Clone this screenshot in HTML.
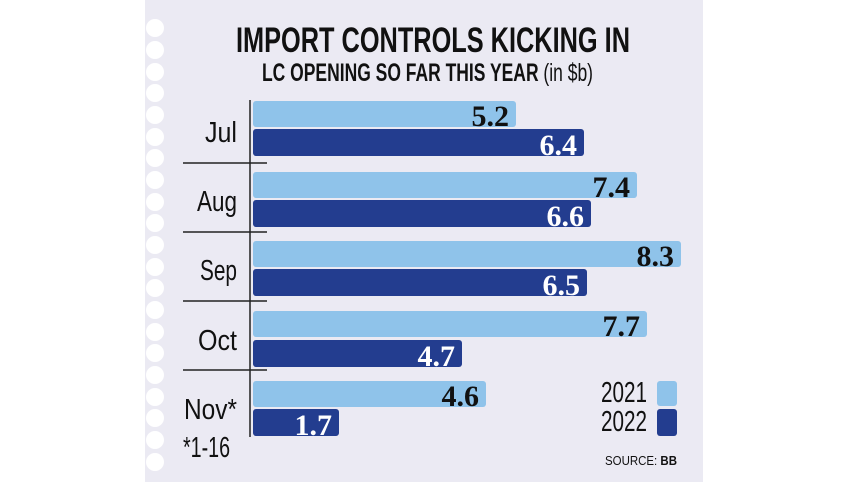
<!DOCTYPE html>
<html><head><style>
html,body{margin:0;padding:0;background:#fff;}
svg{display:block;}
text{font-family:"Liberation Sans",sans-serif;}
g.v text{font-family:"Liberation Serif",serif;font-weight:bold;font-size:30px;}
g.m text, text.m{font-size:29px;fill:#111;}
</style></head><body>
<svg width="857" height="482" viewBox="0 0 857 482">
<rect x="141" y="0" width="562" height="482" fill="#ebeaf3"/>
<g fill="#fff">
<rect x="141" y="0" width="4" height="482"/>
<circle cx="155" cy="28" r="9"/><circle cx="155" cy="50" r="9"/><circle cx="155" cy="72" r="9"/>
<circle cx="155" cy="93" r="9"/><circle cx="155" cy="115" r="9"/><circle cx="155" cy="137" r="9"/>
<circle cx="155" cy="158" r="9"/><circle cx="155" cy="180" r="9"/><circle cx="155" cy="202" r="9"/>
<circle cx="155" cy="223" r="9"/><circle cx="155" cy="245" r="9"/><circle cx="155" cy="267" r="9"/>
<circle cx="155" cy="288" r="9"/><circle cx="155" cy="310" r="9"/><circle cx="155" cy="332" r="9"/>
<circle cx="155" cy="353" r="9"/><circle cx="155" cy="375" r="9"/><circle cx="155" cy="397" r="9"/>
<circle cx="155" cy="418" r="9"/><circle cx="155" cy="440" r="9"/><circle cx="155" cy="462" r="9"/>
</g>
<text x="236" y="52" font-size="35" font-weight="bold" textLength="394" lengthAdjust="spacingAndGlyphs" fill="#111">IMPORT CONTROLS KICKING IN</text>
<text x="262" y="81" font-size="25" textLength="331" lengthAdjust="spacingAndGlyphs" fill="#111"><tspan font-weight="bold">LC OPENING SO FAR THIS YEAR </tspan>(in $b)</text>
<line x1="250" y1="100" x2="250" y2="437" stroke="#222" stroke-width="1.5"/>
<g stroke="#222" stroke-width="1.5">
<line x1="183" y1="163" x2="267" y2="163"/><line x1="183" y1="232" x2="267" y2="232"/>
<line x1="183" y1="301" x2="267" y2="301"/><line x1="183" y1="370" x2="267" y2="370"/>
</g>
<g fill="#8fc3ea">
<rect x="253" y="101" width="263" height="26" rx="3"/>
<rect x="253" y="172" width="384" height="26" rx="3"/>
<rect x="253" y="241" width="428" height="26" rx="3"/>
<rect x="253" y="311" width="394" height="26" rx="3"/>
<rect x="253" y="381" width="233" height="26" rx="3"/>
<rect x="657" y="381" width="20" height="25" rx="3"/>
</g>
<g fill="#233d8f">
<rect x="253" y="129" width="331" height="27" rx="3"/>
<rect x="253" y="200" width="338" height="27" rx="3"/>
<rect x="253" y="269" width="334" height="27" rx="3"/>
<rect x="253" y="340" width="209" height="27" rx="3"/>
<rect x="253" y="409" width="86" height="27" rx="3"/>
<rect x="657" y="409" width="20" height="27" rx="3"/>
</g>
<g class="v" text-anchor="end">
<text x="509" y="126" fill="#111">5.2</text>
<text x="577" y="155" fill="#fff">6.4</text>
<text x="630" y="197" fill="#111">7.4</text>
<text x="584" y="226" fill="#fff">6.6</text>
<text x="674" y="266" fill="#111">8.3</text>
<text x="580" y="295" fill="#fff">6.5</text>
<text x="640" y="336" fill="#111">7.7</text>
<text x="455" y="366" fill="#fff">4.7</text>
<text x="479" y="406" fill="#111">4.6</text>
<text x="332" y="435" fill="#fff">1.7</text>
</g>
<g class="m" text-anchor="end">
<text x="237" y="142" textLength="32" lengthAdjust="spacingAndGlyphs">Jul</text>
<text x="237" y="211" textLength="40" lengthAdjust="spacingAndGlyphs">Aug</text>
<text x="237" y="280" textLength="37" lengthAdjust="spacingAndGlyphs">Sep</text>
<text x="237" y="350" textLength="39" lengthAdjust="spacingAndGlyphs">Oct</text>
<text x="237" y="419" textLength="53" lengthAdjust="spacingAndGlyphs">Nov*</text>
</g>
<text x="183" y="457" class="m" textLength="47" lengthAdjust="spacingAndGlyphs">*1-16</text>
<text x="647" y="402" class="m" text-anchor="end" textLength="46" lengthAdjust="spacingAndGlyphs">2021</text>
<text x="647" y="431" class="m" text-anchor="end" textLength="46" lengthAdjust="spacingAndGlyphs">2022</text>
<text x="605" y="465" font-size="13" fill="#111" textLength="72" lengthAdjust="spacingAndGlyphs">SOURCE: <tspan font-weight="bold">BB</tspan></text>
</svg>
</body></html>
